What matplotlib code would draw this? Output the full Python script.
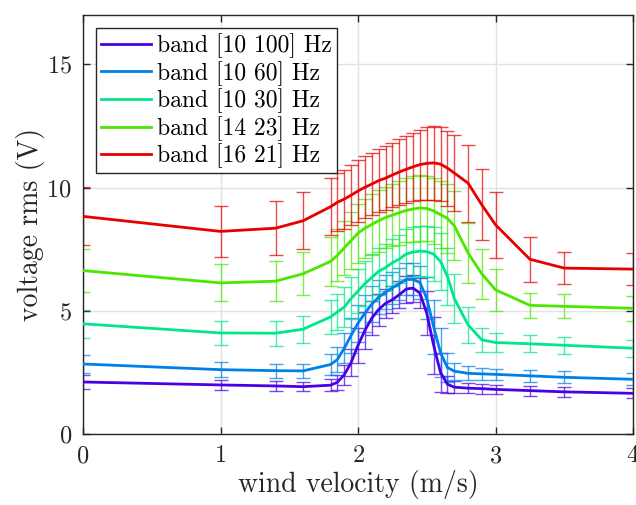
import matplotlib
matplotlib.use("Agg")
import matplotlib.pyplot as plt

plt.rcParams["font.family"] = "cmr10"
plt.rcParams["axes.formatter.use_mathtext"] = True
plt.rcParams["mathtext.fontset"] = "cm"

wind = [0, 1, 1.4, 1.6, 1.8, 1.85, 1.9, 1.95, 2.0, 2.05, 2.1, 2.15, 2.2, 2.25,
        2.3, 2.35, 2.4, 2.45, 2.5, 2.55, 2.6, 2.65, 2.7, 2.8, 2.9, 3.0, 3.25,
        3.5, 4.0]

labels = ["band [10 100] Hz", "band [10 60] Hz", "band [10 30] Hz",
          "band [14 23] Hz", "band [16 21] Hz"]
colors = ["#4a00e6", "#0080e6", "#00e68a", "#4ce600", "#e60000"]

v_10_100 = [2.11, 1.99, 1.95, 1.92, 1.98, 2.10, 2.40, 2.90, 3.60, 4.20, 4.70,
            5.05, 5.30, 5.45, 5.65, 5.88, 5.92, 5.72, 4.90, 3.60, 2.50, 2.02,
            1.90, 1.86, 1.84, 1.81, 1.76, 1.71, 1.65]
e_10_100 = [0.27, 0.22, 0.20, 0.19, 0.24, 0.30, 0.40, 0.55, 0.70, 0.75, 0.70,
            0.65, 0.60, 0.55, 0.55, 0.55, 0.55, 0.60, 0.90, 1.15, 0.80, 0.35,
            0.25, 0.20, 0.20, 0.19, 0.20, 0.20, 0.20]

v_10_60 = [2.84, 2.61, 2.57, 2.56, 2.82, 3.02, 3.48, 4.00, 4.50, 4.90, 5.27,
           5.55, 5.76, 5.93, 6.10, 6.27, 6.27, 6.15, 5.50, 4.35, 3.30, 2.70,
           2.55, 2.46, 2.44, 2.42, 2.36, 2.30, 2.22]
e_10_60 = [0.38, 0.31, 0.29, 0.30, 0.44, 0.50, 0.60, 0.70, 0.75, 0.75, 0.72,
           0.70, 0.68, 0.65, 0.65, 0.65, 0.65, 0.68, 0.85, 1.10, 1.00, 0.60,
           0.35, 0.28, 0.25, 0.22, 0.24, 0.25, 0.24]

v_10_30 = [4.47, 4.10, 4.09, 4.25, 4.75, 4.95, 5.15, 5.50, 5.80, 6.10, 6.35,
           6.60, 6.75, 6.95, 7.10, 7.30, 7.38, 7.42, 7.40, 7.30, 7.00, 6.40,
           5.50, 4.43, 3.82, 3.71, 3.66, 3.60, 3.48]
e_10_30 = [0.57, 0.49, 0.51, 0.55, 0.70, 0.75, 0.80, 0.85, 0.90, 0.92, 0.95,
           0.95, 0.95, 0.95, 0.98, 1.00, 1.00, 1.00, 1.05, 1.10, 1.15, 1.15,
           1.00, 0.72, 0.50, 0.37, 0.35, 0.35, 0.34]

v_14_23 = [6.63, 6.13, 6.20, 6.50, 7.00, 7.25, 7.55, 7.85, 8.15, 8.35, 8.50,
           8.65, 8.78, 8.88, 8.98, 9.07, 9.13, 9.17, 9.15, 9.05, 8.90, 8.75,
           8.45, 7.35, 6.50, 5.85, 5.22, 5.18, 5.10]
e_14_23 = [0.87, 0.75, 0.80, 0.87, 1.00, 1.05, 1.10, 1.15, 1.20, 1.20, 1.22,
           1.25, 1.25, 1.27, 1.30, 1.30, 1.32, 1.33, 1.33, 1.33, 1.35, 1.40,
           1.40, 1.23, 1.02, 0.85, 0.50, 0.48, 0.50]

v_16_21 = [8.83, 8.22, 8.35, 8.65, 9.22, 9.40, 9.53, 9.69, 9.86, 10.01, 10.14,
           10.28, 10.38, 10.51, 10.63, 10.74, 10.84, 10.93, 10.98, 11.00,
           10.95, 10.79, 10.59, 10.18, 9.30, 8.49, 7.09, 6.73, 6.69]
e_16_21 = [1.18, 1.05, 1.09, 1.15, 1.15, 1.17, 1.20, 1.22, 1.24, 1.25, 1.27,
           1.28, 1.29, 1.31, 1.33, 1.35, 1.37, 1.42, 1.48, 1.50, 1.50, 1.52,
           1.55, 1.56, 1.44, 1.33, 0.91, 0.65, 0.64]

means = [v_10_100, v_10_60, v_10_30, v_14_23, v_16_21]
errors = [e_10_100, e_10_60, e_10_30, e_14_23, e_16_21]

fig = plt.figure(figsize=(6.36, 5.05), dpi=100)
ax = fig.add_axes([0.1305, 0.1406, 0.8648, 0.8297])

for m, e, c in zip(means, errors, colors):
    ax.errorbar(wind, m, yerr=e, fmt="none", ecolor=c, elinewidth=1.0,
                capsize=5, capthick=1.0, alpha=0.72, zorder=2)

handles = []
for m, c, lab in zip(means, colors, labels):
    h, = ax.plot(wind, m, color=c, lw=2.0, label=lab, zorder=3)
    handles.append(h)

ax.set_xlim(0, 4)
ax.set_ylim(0, 17)
ax.set_xticks([0, 1, 2, 3, 4])
ax.set_yticks([0, 5, 10, 15])
ax.grid(True, color="#e3e3e3", lw=1.0, zorder=0)
ax.set_axisbelow(True)
ax.tick_params(direction="in", length=5, width=1, colors="#262626",
               labelsize=17.5, top=True, right=True, pad=8)
for s in ax.spines.values():
    s.set_color("#262626")
    s.set_linewidth(1.0)

ax.set_xlabel("wind velocity (m/s)", fontsize=20, color="#262626", labelpad=2)
ax.set_ylabel("voltage rms (V)", fontsize=20, color="#262626", labelpad=1)

leg = ax.legend(handles=handles, loc="upper left", fontsize=17,
                frameon=True, fancybox=False, edgecolor="#262626",
                framealpha=1, handlelength=2.1, handletextpad=0.25,
                borderpad=0.22, labelspacing=0.12, borderaxespad=0.55)
leg.get_frame().set_linewidth(1.0)

fig.savefig("out.png", dpi=100)
